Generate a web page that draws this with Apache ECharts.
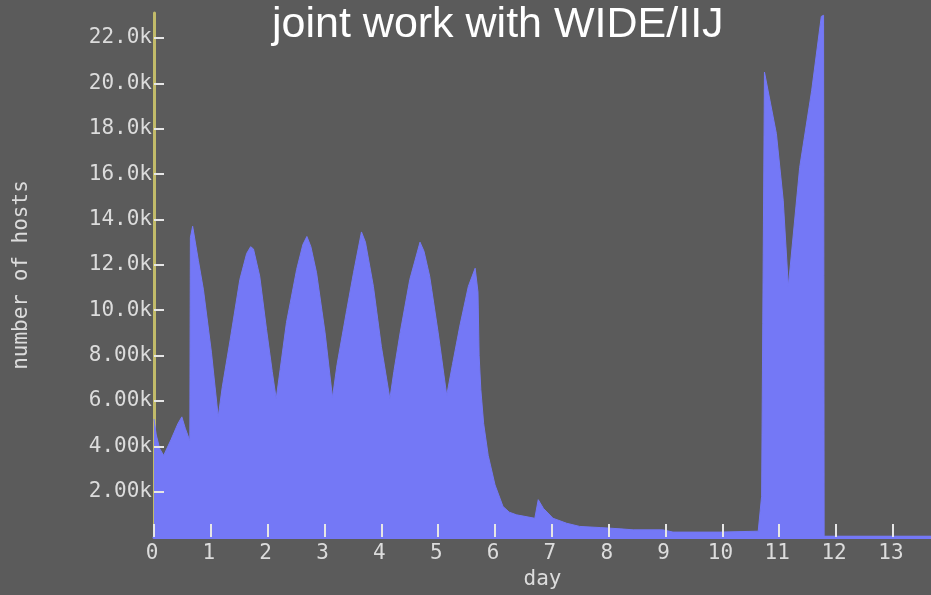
<!DOCTYPE html>
<html>
<head>
<meta charset="utf-8">
<script src="https://cdn.jsdelivr.net/npm/echarts@6/dist/echarts.min.js"></script>
<style>
html,body{margin:0;padding:0;background:#5b5b5b;}
#chart{width:931px;height:595px;}
</style>
</head>
<body>
<div id="chart"></div>
<script>
// Data
const days = [0.00,0.04,0.10,0.17,0.30,0.42,0.49,0.55,0.63,0.64,0.68,0.78,0.87,1.01,1.13,1.20,1.34,1.51,1.63,1.70,1.75,1.86,1.98,2.08,2.15,2.22,2.33,2.51,2.62,2.69,2.76,2.86,3.01,3.14,3.22,3.39,3.51,3.65,3.72,3.86,4.00,4.15,4.22,4.33,4.50,4.68,4.75,4.85,5.00,5.15,5.25,5.38,5.53,5.65,5.70,5.72,5.75,5.80,5.88,6.00,6.14,6.25,6.38,6.70,6.76,6.85,7.02,7.26,7.49,7.85,8.20,8.43,8.95,9.13,9.96,10.63,10.69,10.71,10.74,10.95,11.07,11.16,11.36,11.57,11.74,11.78,11.79,13.67];
const hosts = [5200,4500,3900,3600,4300,5000,5300,4800,4250,13200,13700,12200,10900,8150,5300,6600,8700,11350,12500,12800,12700,11500,9150,7300,6100,7400,9450,11800,12900,13250,12800,11650,9000,6150,7600,10000,11650,13450,13000,11050,8400,6100,7300,9000,11350,13000,12600,11500,9000,6250,7600,9300,11050,11850,10800,8000,6500,5000,3600,2300,1350,1100,980,830,1650,1270,830,610,470,420,365,320,320,220,220,260,1800,9400,20500,17780,14850,11050,16300,19670,22950,23000,40,40];
const xTicks = [0,1,2,3,4,5,6,7,8,9,10,11,12,13];
const yTicks = [2000,4000,6000,8000,10000,12000,14000,16000,18000,20000,22000];
const yTickLabels = ['2.00k','4.00k','6.00k','8.00k','10.0k','12.0k','14.0k','16.0k','18.0k','20.0k','22.0k'];
const titleText = 'joint work with WIDE/IIJ';
const xName = 'day';
const yName = 'number of hosts';

const seriesData = days.map((d, i) => [d, hosts[i]]);
const labelFont = 'DejaVu Sans Mono';
const labelColor = '#dcdcdc';

const chart = echarts.init(document.getElementById('chart'), null, {renderer: 'canvas'});
chart.setOption({
  backgroundColor: '#5b5b5b',
  animation: false,
  grid: {left: 154, right: 0, top: 13, bottom: 56, containLabel: false},
  graphic: [{
    type: 'text', left: 272, top: 4, z: 10,
    style: {text: titleText, fill: '#ffffff', font: '43px "Liberation Sans", Arial, sans-serif'}
  }],
  xAxis: {
    type: 'value', min: 0, max: 13.67, z: 5,
    name: xName, nameLocation: 'middle', nameGap: 31,
    nameTextStyle: {color: labelColor, fontFamily: labelFont, fontSize: 21},
    axisLine: {show: true, lineStyle: {color: '#7478f6', width: 3}},
    axisTick: {show: true, inside: true, length: 13, customValues: xTicks, lineStyle: {color: '#e6e6e6', width: 2}},
    axisLabel: {customValues: xTicks, color: labelColor, fontFamily: labelFont, fontSize: 21, margin: 6, padding: [0, 4, 0, 0], formatter: v => String(v)},
    splitLine: {show: false}
  },
  yAxis: [{
    type: 'value', min: 0, max: 23100, position: 'left', z: 0,
    axisLine: {show: true, lineStyle: {color: '#c2bb6a', width: 3}},
    axisTick: {show: false}, axisLabel: {show: false}, splitLine: {show: false}
  }, {
    type: 'value', min: 0, max: 23100, position: 'left', offset: 0, z: 5,
    name: yName, nameLocation: 'middle', nameGap: 122, nameRotate: 90,
    nameTextStyle: {color: labelColor, fontFamily: labelFont, fontSize: 21},
    axisLine: {show: false},
    axisTick: {show: true, inside: true, length: 10, customValues: yTicks, lineStyle: {color: '#e6e6e6', width: 2}},
    axisLabel: {customValues: yTicks, color: labelColor, fontFamily: labelFont, fontSize: 21, margin: 2,
      formatter: v => { const i = yTicks.indexOf(v); return i >= 0 ? yTickLabels[i] : ''; }},
    splitLine: {show: false}
  }],
  series: [{
    type: 'line', yAxisIndex: 0, data: seriesData, showSymbol: false, smooth: false,
    sampling: null, z: 2,
    lineStyle: {color: '#7478f6', width: 1},
    areaStyle: {color: '#7478f6', opacity: 1}
  }]
});
</script>
</body>
</html>
